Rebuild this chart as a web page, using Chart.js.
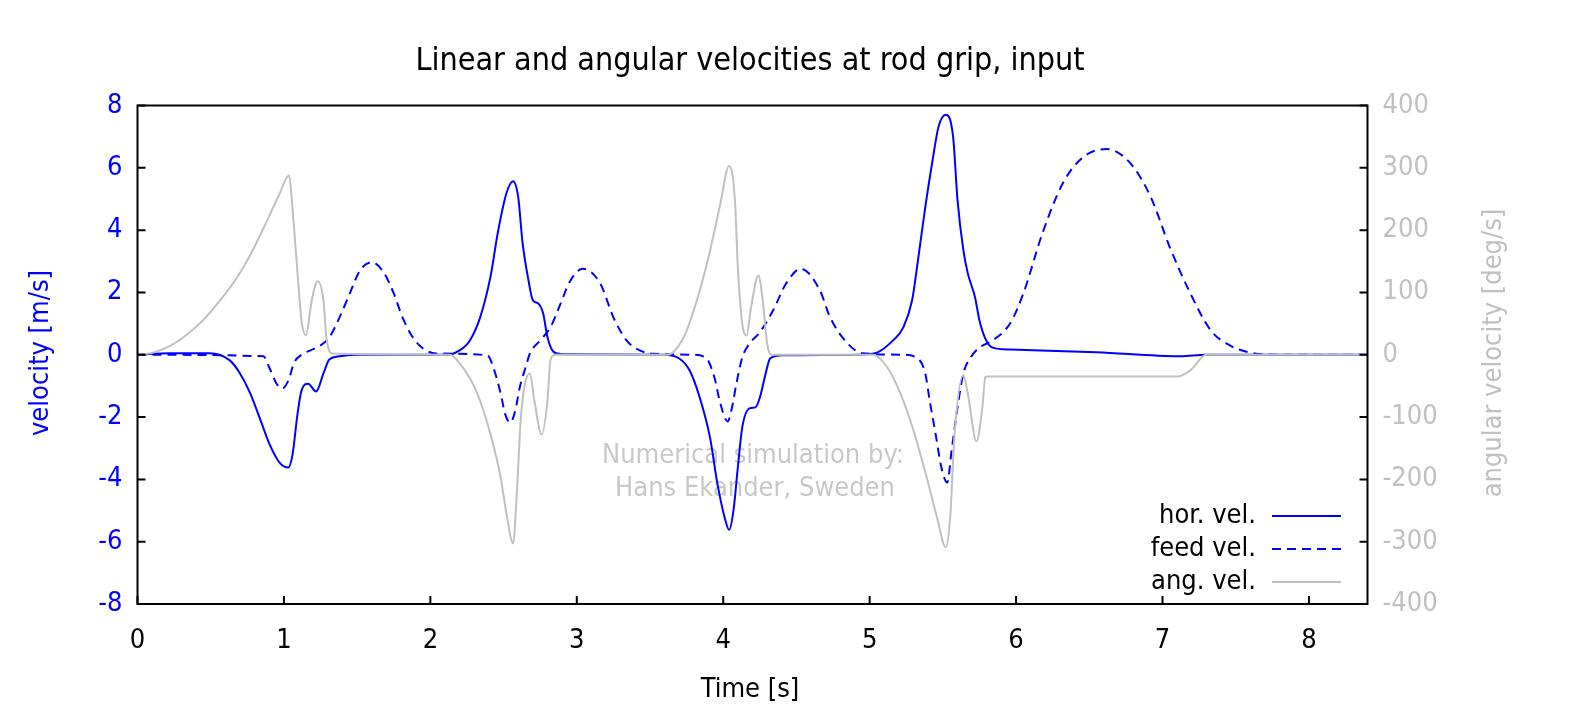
<!DOCTYPE html>
<html>
<head>
<title>Linear and angular velocities at rod grip, input</title>
<script src="https://cdn.jsdelivr.net/npm/chart.js"></script>
<style>
  body { margin: 0; background: #fff; }
  #wrap { width: 1574px; height: 717px; }
</style>
</head>
<body>
<div id="wrap"><canvas id="velChart"></canvas></div>
<script>
// tick labels
const timeTicks = [0, 1, 2, 3, 4, 5, 6, 7, 8];
const velTicks = [-8, -6, -4, -2, 0, 2, 4, 6, 8];
const angTicks = [-400, -300, -200, -100, 0, 100, 200, 300, 400];

// hor. vel. [m/s]
const horT = [0, 0.22, 0.49, 0.63, 0.7, 0.77, 0.84, 0.9, 0.97, 1.03, 1.06, 1.09, 1.12, 1.165, 1.22, 1.27, 1.31, 1.38, 1.5,
  2.11, 2.2, 2.27, 2.34, 2.41, 2.46, 2.52, 2.565, 2.6, 2.63, 2.67, 2.7, 2.735, 2.77, 2.8, 2.84, 2.9,
  3.59, 3.7, 3.77, 3.84, 3.91, 3.96, 4.01, 4.04, 4.07, 4.1, 4.13, 4.18, 4.22, 4.25, 4.29, 4.32, 4.39,
  4.93, 5.05, 5.16, 5.23, 5.29, 5.33, 5.38, 5.43, 5.47, 5.52, 5.57, 5.6, 5.64, 5.67, 5.72, 5.75, 5.79, 5.84, 5.96,
  6.55, 7.12, 7.3, 8.4];
const horV = [0, 0.05, 0.05, -0.18, -0.6, -1.24, -2.1, -2.85, -3.46, -3.62, -3.17, -2.0, -1.15, -0.93, -1.18, -0.6, -0.15, -0.05, 0,
  0, 0.14, 0.46, 1.2, 2.49, 3.9, 5.19, 5.57, 5.06, 3.58, 2.39, 1.75, 1.65, 1.33, 0.56, 0.1, 0.02,
  0, -0.12, -0.5, -1.38, -2.66, -4.13, -5.23, -5.62, -5.0, -3.61, -2.33, -1.72, -1.69, -1.38, -0.6, -0.12, -0.02,
  0, 0.07, 0.46, 0.88, 1.75, 3.03, 4.74, 6.25, 7.31, 7.7, 6.99, 4.97, 3.36, 2.62, 1.84, 1.1, 0.52, 0.23, 0.17,
  0.08, -0.05, 0, 0];

// feed vel. [m/s]
const feedT = [0, 0.86, 0.9, 0.95, 0.99, 1.03, 1.07, 1.12, 1.18, 1.25, 1.31, 1.38, 1.45, 1.52, 1.6, 1.68, 1.75, 1.81, 1.88, 1.95, 2.04,
  2.39, 2.43, 2.48, 2.51, 2.545, 2.58, 2.61, 2.65, 2.68, 2.75, 2.82, 2.89, 2.95, 3.04, 3.16, 3.25, 3.34, 3.43, 3.52,
  3.79, 3.88, 3.94, 3.98, 4.03, 4.06, 4.09, 4.13, 4.18, 4.25, 4.34, 4.43, 4.53, 4.66, 4.73, 4.85, 4.95,
  5.23, 5.32, 5.38, 5.41, 5.45, 5.49, 5.53, 5.56, 5.6, 5.64, 5.69, 5.75, 5.84, 5.96, 6.05, 6.18, 6.32, 6.46, 6.62,
  6.78, 6.92, 7.05, 7.19, 7.33, 7.46, 7.6, 7.8, 8.4];
const feedV = [0, -0.05, -0.41, -0.93, -1.08, -0.83, -0.25, 0, 0.14, 0.3, 0.56, 1.2, 1.97, 2.71, 2.97, 2.65, 1.97, 1.2, 0.56, 0.2, 0.04,
  -0.02, -0.41, -1.24, -1.89, -2.18, -1.79, -1.06, -0.41, 0.04, 0.46, 0.88, 1.65, 2.33, 2.76, 2.29, 1.2, 0.46, 0.14, 0.03,
  0, -0.09, -0.73, -1.56, -2.14, -1.69, -0.93, -0.09, 0.36, 0.72, 1.42, 2.29, 2.76, 2.07, 1.2, 0.36, 0.05,
  0, -0.09, -0.6, -1.47, -2.53, -3.62, -4.1, -3.07, -1.69, -0.6, -0.09, 0.23, 0.46, 1.01, 1.97, 3.9, 5.51, 6.35, 6.6,
  6.15, 5.06, 3.45, 1.97, 0.78, 0.3, 0.07, 0, 0];

// ang. vel. [deg/s]
const angT = [0, 0.1, 0.22, 0.33, 0.45, 0.56, 0.68, 0.77, 0.86, 0.97, 1.035, 1.06, 1.09, 1.12, 1.15, 1.19, 1.23, 1.27, 1.29, 1.33,
  2.13, 2.22, 2.32, 2.41, 2.48, 2.52, 2.565, 2.59, 2.62, 2.68, 2.71, 2.76, 2.8, 2.82, 2.85,
  3.62, 3.73, 3.82, 3.91, 3.98, 4.04, 4.08, 4.1, 4.13, 4.16, 4.19, 4.24, 4.27, 4.3, 4.33,
  5.02, 5.12, 5.21, 5.3, 5.39, 5.46, 5.52, 5.55, 5.58, 5.64, 5.67, 5.73, 5.77, 5.79, 5.8, 7.1, 7.19, 7.3, 8.4];
const angV = [0, 3, 14, 31, 56, 86, 124, 160, 203, 258, 288, 231, 140, 55, 31, 87, 118, 87, 28, 2,
  0, -20, -62, -127, -197, -255, -303, -223, -95, -30, -73, -128, -73, -9, 0,
  0, 28, 87, 167, 242, 303, 248, 140, 50, 31, 76, 127, 87, 18, 0,
  0, -20, -62, -122, -197, -261, -309, -261, -127, -33, -62, -139, -84, -36, -35, -35, -25, 0, 0];

const FONT = "'DejaVu Sans Condensed', 'DejaVu Sans', sans-serif";
const BLUE = '#0000ff';
const GREY = '#c0c0c0';

function pts(xs, ys) {
  return xs.map((x, i) => ({ x: x, y: ys[i] }));
}

const framePlugin = {
  id: 'frame',
  beforeDraw(chart) {
    const c = chart.ctx;
    c.save();
    c.fillStyle = '#fff';
    c.fillRect(0, 0, chart.width, chart.height);
    c.restore();
  },
  beforeDatasetsDraw(chart) {
    const c = chart.ctx;
    c.save();
    c.fillStyle = '#c8c8c8';
    c.font = '27px ' + FONT;
    c.textAlign = 'center';
    c.textBaseline = 'middle';
    c.fillText('Numerical simulation by:', 753, 456);
    c.fillText('Hans Ekander, Sweden', 755, 489);
    c.restore();
  },
  afterDatasetsDraw(chart) {
    const c = chart.ctx;
    const a = chart.chartArea;
    const sx = chart.scales.x, sy = chart.scales.y, sy2 = chart.scales.y2;
    c.save();
    // border
    c.strokeStyle = '#000';
    c.lineWidth = 2;
    c.strokeRect(a.left, a.top, a.right - a.left, a.bottom - a.top);
    // inward tick marks
    c.beginPath();
    sx.ticks.forEach(t => {
      const px = sx.getPixelForValue(t.value);
      c.moveTo(px, a.bottom); c.lineTo(px, a.bottom - 8);
    });
    sy.ticks.forEach(t => {
      const py = sy.getPixelForValue(t.value);
      c.moveTo(a.left, py); c.lineTo(a.left + 8, py);
    });
    sy2.ticks.forEach(t => {
      const py = sy2.getPixelForValue(t.value);
      c.moveTo(a.right, py); c.lineTo(a.right - 8, py);
    });
    c.stroke();

    // legend
    c.font = '27px ' + FONT;
    c.textAlign = 'right';
    c.textBaseline = 'middle';
    chart.data.datasets.forEach((ds, i) => {
      const y = 516 + i * 33;
      c.fillStyle = '#000';
      c.fillText(ds.label, 1256, y);
      c.strokeStyle = ds.borderColor;
      c.lineWidth = ds.borderWidth;
      c.setLineDash(ds.borderDash || []);
      c.beginPath();
      c.moveTo(1272, y); c.lineTo(1341, y);
      c.stroke();
    });
    c.setLineDash([]);

    // title and axis titles
    c.textAlign = 'center';
    c.fillStyle = '#000';
    c.font = '32px ' + FONT;
    c.fillText('Linear and angular velocities at rod grip, input', 750, 62);
    c.font = '27px ' + FONT;
    c.fillText('Time [s]', 750, 690);
    c.fillStyle = BLUE;
    c.translate(41, 353);
    c.rotate(-Math.PI / 2);
    c.fillText('velocity [m/s]', 0, 0);
    c.restore();
    c.save();
    c.font = '27px ' + FONT;
    c.textAlign = 'center';
    c.textBaseline = 'middle';
    c.fillStyle = GREY;
    c.translate(1494, 353);
    c.rotate(-Math.PI / 2);
    c.fillText('angular velocity [deg/s]', 0, 0);
    c.restore();
  }
};

const tickFont = { family: FONT, size: 27 };

new Chart(document.getElementById('velChart'), {
  type: 'line',
  data: {
    datasets: [{
      label: 'hor. vel.',
      data: pts(horT, horV),
      yAxisID: 'y',
      borderColor: BLUE,
      borderWidth: 2,
      order: 2
    }, {
      label: 'feed vel.',
      data: pts(feedT, feedV),
      yAxisID: 'y',
      borderColor: BLUE,
      borderWidth: 2,
      borderDash: [9, 6],
      order: 1
    }, {
      label: 'ang. vel.',
      data: pts(angT, angV),
      yAxisID: 'y2',
      borderColor: GREY,
      borderWidth: 2,
      order: 0
    }]
  },
  options: {
    responsive: true,
    maintainAspectRatio: false,
    animation: false,
    events: [],
    layout: { padding: { top: 105.5, left: 0, right: 0, bottom: 0 } },
    elements: {
      point: { radius: 0 },
      line: { cubicInterpolationMode: 'monotone', fill: false }
    },
    plugins: {
      legend: { display: false },
      title: { display: false },
      tooltip: { enabled: false }
    },
    scales: {
      x: {
        type: 'linear',
        min: 0,
        max: 8.4,
        afterBuildTicks: s => { s.ticks = timeTicks.map(v => ({ value: v })); },
        afterFit: s => { s.height = 113; },
        grid: { display: false, drawTicks: false },
        border: { display: false },
        ticks: { color: '#000', font: tickFont, padding: 21, maxRotation: 0 }
      },
      y: {
        position: 'left',
        min: -8,
        max: 8,
        afterBuildTicks: s => { s.ticks = velTicks.map(v => ({ value: v })); },
        afterFit: s => { s.width = 137.5; },
        grid: { display: false, drawTicks: false },
        border: { display: false },
        ticks: { color: BLUE, font: tickFont, padding: 15 }
      },
      y2: {
        position: 'right',
        min: -400,
        max: 400,
        afterBuildTicks: s => { s.ticks = angTicks.map(v => ({ value: v })); },
        afterFit: s => { s.width = 206.5; },
        grid: { display: false, drawTicks: false },
        border: { display: false },
        ticks: { color: GREY, font: tickFont, padding: 15 }
      }
    }
  },
  plugins: [framePlugin]
});
</script>
</body>
</html>
